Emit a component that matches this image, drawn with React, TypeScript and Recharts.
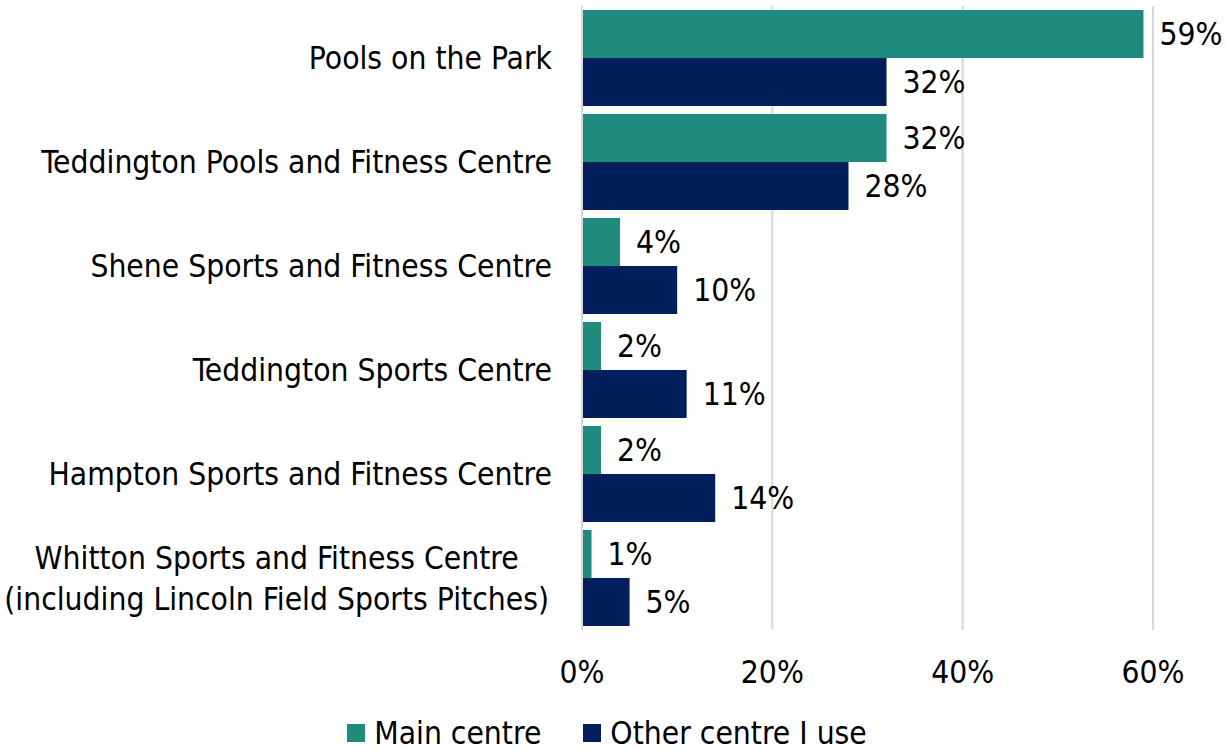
import React from 'react';
import { BarChart, Bar, XAxis, YAxis, CartesianGrid, Legend, LabelList } from 'recharts';

const categories = [
  'Pools on the Park',
  'Teddington Pools and Fitness Centre',
  'Shene Sports and Fitness Centre',
  'Teddington Sports Centre',
  'Hampton Sports and Fitness Centre',
  'Whitton Sports and Fitness Centre\n(including Lincoln Field Sports Pitches)',
];
const mainCentre = [59, 32, 4, 2, 2, 1];
const otherCentre = [32, 28, 10, 11, 14, 5];
const xTicks = [0, 20, 40, 60];
const seriesNames = ['Main centre', 'Other centre I use'];

const GREEN = '#1F8B7C';
const NAVY = '#001F5B';
const FONT = "'DejaVu Sans Condensed', 'DejaVu Sans', sans-serif";
const FS = 31.5;

const data = categories.map((c, i) => ({ name: c, main: mainCentre[i], other: otherCentre[i] }));

const textStyle: React.CSSProperties = { fontFamily: FONT, fontStretch: 'condensed' };

let measureCtx: CanvasRenderingContext2D | null = null;
function measure(s: string): number {
  try {
    if (!measureCtx) {
      measureCtx = document.createElement('canvas').getContext('2d');
    }
    if (measureCtx) {
      measureCtx.font = `${FS}px 'DejaVu Sans Condensed', 'DejaVu Sans', sans-serif`;
      return measureCtx.measureText(s).width;
    }
  } catch (e) {}
  return s.length * FS * 0.46;
}

const YTick = (props: any) => {
  const { x, y, payload } = props;
  const lines = String(payload.value).split('\n');
  const lh = 41;
  const start = y - ((lines.length - 1) * lh) / 2;
  if (lines.length > 1) {
    const w = Math.max(...lines.map(measure));
    const cx = x - 3 - w / 2;
    return (
      <text x={cx} y={start} textAnchor="middle" dominantBaseline="central" fontSize={FS} fill="#000" style={textStyle}>
        {lines.map((l, i) => (
          <tspan key={i} x={cx} y={start + i * lh} dominantBaseline="central">
            {l}
          </tspan>
        ))}
      </text>
    );
  }
  return (
    <text x={x} y={y} textAnchor="end" dominantBaseline="central" fontSize={FS} fill="#000" style={textStyle}>
      {lines[0]}
    </text>
  );
};

const XTick = (props: any) => {
  const { x, y, payload } = props;
  return (
    <text x={x} y={y + 34} textAnchor="middle" dominantBaseline="central" fontSize={FS} fill="#000" style={textStyle}>
      {payload.value}%
    </text>
  );
};

const BarLabel = (props: any) => {
  const { x, y, width, height, value } = props;
  return (
    <text
      x={Number(x) + Number(width) + 16}
      y={Number(y) + Number(height) / 2}
      textAnchor="start"
      dominantBaseline="central"
      fontSize={FS}
      fill="#000"
      style={textStyle}
    >
      {value}%
    </text>
  );
};

const LegendContent = (props: any) => {
  const { payload } = props;
  return (
    <div
      style={{
        height: 60,
        display: 'flex',
        justifyContent: 'center',
        alignItems: 'center',
        paddingTop: 26,
        paddingRight: 12,
        boxSizing: 'border-box',
      }}
    >
      {(payload || []).map((p: any, i: number) => (
        <div key={i} style={{ display: 'flex', alignItems: 'center', marginLeft: i === 0 ? 0 : 42 }}>
          <div style={{ width: 18, height: 18, background: p.color, marginRight: 9 }} />
          <span style={{ ...textStyle, fontSize: FS, color: '#000', lineHeight: '34px' }}>{p.value}</span>
        </div>
      ))}
    </div>
  );
};

export default function App() {
  return (
    <div style={{ position: 'absolute', left: 0, top: 0, width: 1226, height: 750, background: '#fff' }}>
      <BarChart
        width={1226}
        height={750}
        data={data}
        layout="vertical"
        margin={{ top: 6, right: 73, left: 0, bottom: 0 }}
        barCategoryGap={4}
        barGap={0}
      >
        <CartesianGrid horizontal={false} vertical={true} stroke="#D9D9D9" strokeWidth={2} />
        <XAxis
          type="number"
          domain={[0, 60]}
          ticks={xTicks}
          axisLine={false}
          tickLine={false}
          height={60}
          tick={<XTick />}
          interval={0}
        />
        <YAxis
          type="category"
          dataKey="name"
          width={582}
          axisLine={{ stroke: '#D9D9D9', strokeWidth: 2 }}
          tickLine={false}
          tickSize={0}
          tickMargin={30}
          tick={<YTick />}
          interval={0}
        />
        <Legend verticalAlign="bottom" wrapperStyle={{ left: 0, width: 1226 }} content={<LegendContent />} />
        <Bar dataKey="main" name={seriesNames[0]} fill={GREEN} isAnimationActive={false}>
          <LabelList dataKey="main" content={<BarLabel />} />
        </Bar>
        <Bar dataKey="other" name={seriesNames[1]} fill={NAVY} isAnimationActive={false}>
          <LabelList dataKey="other" content={<BarLabel />} />
        </Bar>
      </BarChart>
    </div>
  );
}
